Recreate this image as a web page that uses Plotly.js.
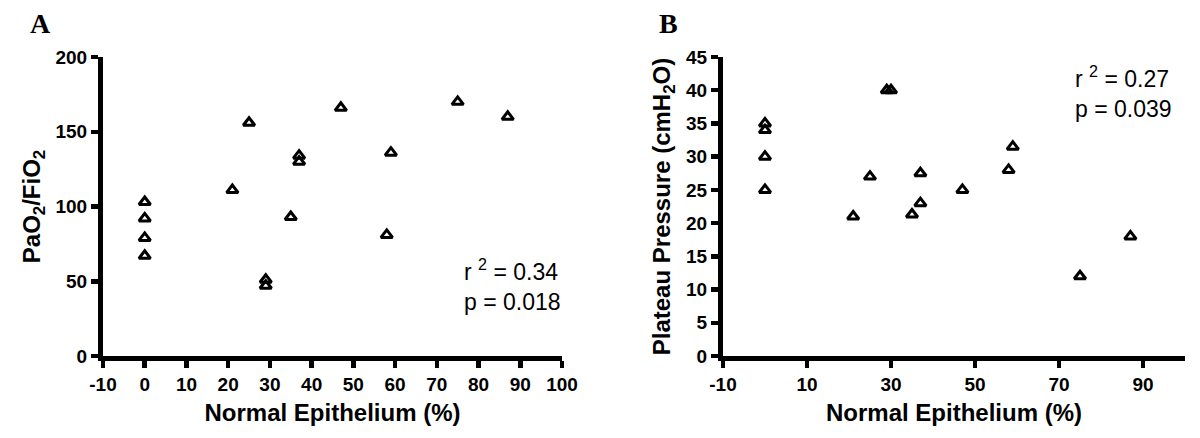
<!DOCTYPE html>
<html>
<head>
<meta charset="utf-8">
<script src="https://cdn.plot.ly/plotly-3.0.1.min.js"></script>
<style>html,body{margin:0;padding:0;background:#fff;}#chart{width:1200px;height:438px;}</style>
</head>
<body>
<div id="chart"></div>
<script>
// Panel A: PaO2/FiO2 vs normal epithelium
var epitheliumA = [0, 0, 0, 0, 21, 25, 29, 29, 35, 37, 37, 47, 58, 59, 75, 87];
var pao2fio2   = [103, 92, 79, 67, 111, 156, 51, 47, 93, 134, 130, 166, 81, 136, 170, 160];
// Panel B: Plateau pressure vs normal epithelium
var epitheliumB = [0, 0, 0, 0, 21, 25, 29, 30, 35, 37, 37, 47, 58, 59, 75, 87];
var plateau     = [35, 34, 30, 25, 21, 27, 40, 40, 21.3, 27.5, 23, 25, 28, 31.5, 12, 18];

// Tick values / labels
var xTicksA = [-10, 0, 10, 20, 30, 40, 50, 60, 70, 80, 90, 100];
var xLabelsA = ["-10", "0", "10", "20", "30", "40", "50", "60", "70", "80", "90", "100"];
var yTicksA = [0, 50, 100, 150, 200];
var yLabelsA = ["0", "50", "100", "150", "200"];
var xTicksB = [-10, 10, 30, 50, 70, 90];
var xLabelsB = ["-10", "10", "30", "50", "70", "90"];
var yTicksB = [0, 5, 10, 15, 20, 25, 30, 35, 40, 45];
var yLabelsB = ["0", "5", "10", "15", "20", "25", "30", "35", "40", "45"];

var statsA = ["r <sup>2</sup> = 0.34", "p = 0.018"];
var statsB = ["r <sup>2</sup> = 0.27", "p = 0.039"];

var FONT = "Liberation Sans, Arial, sans-serif";
var marker = {symbol: "triangle-up-open", size: 10, color: "#000", line: {color: "#000", width: 3}};

var traces = [
  {x: epitheliumA, y: pao2fio2, type: "scatter", mode: "markers", marker: marker, xaxis: "x", yaxis: "y", cliponaxis: false, name: "A"},
  {x: epitheliumB, y: plateau, type: "scatter", mode: "markers", marker: marker, xaxis: "x2", yaxis: "y2", cliponaxis: false, name: "B"}
];

function bold(arr) { return arr.map(function (s) { return "<b>" + s + "</b>"; }); }

function axisBase(vals, labels) {
  return {
    showline: true, linecolor: "#000", linewidth: 5,
    ticks: "outside", ticklen: 7, tickwidth: 4.5, tickcolor: "#000",
    showgrid: false, zeroline: false,
    tickmode: "array", tickvals: vals, ticktext: bold(labels),
    tickfont: {family: FONT, size: 19, color: "#000", weight: 700},
    fixedrange: true
  };
}
function titleObj(text, standoff) {
  return {text: "<b>" + text + "</b>", standoff: standoff, font: {family: FONT, size: 24, color: "#000", weight: 700}};
}

var xa = Object.assign(axisBase(xTicksA, xLabelsA), {domain: [0, 0.4242], range: [-10, 100], anchor: "y",
  title: titleObj("Normal Epithelium (%)", 12)});
var ya = Object.assign(axisBase(yTicksA, yLabelsA), {domain: [0, 1], range: [0, 200], anchor: "x",
  title: titleObj("PaO<sub>2</sub>/FiO<sub>2</sub>", 10)});
var xb = Object.assign(axisBase(xTicksB, xLabelsB), {domain: [0.573, 1], range: [-10, 100], anchor: "y2",
  title: titleObj("Normal Epithelium (%)", 12)});
var yb = Object.assign(axisBase(yTicksB, yLabelsB), {domain: [0, 1], range: [0, 45], anchor: "x2",
  title: titleObj("Plateau Pressure (cmH<sub>2</sub>O)", 10)});

var layout = {
  width: 1200, height: 438,
  margin: {l: 103, r: 15, t: 57, b: 82},
  paper_bgcolor: "#fff", plot_bgcolor: "#fff",
  showlegend: false,
  xaxis: xa, yaxis: ya, xaxis2: xb, yaxis2: yb,
  annotations: [
    {xref: "paper", yref: "paper", x: 0.3318, y: 0.2375, xanchor: "left", yanchor: "middle", align: "left",
     showarrow: false, text: statsA.join("<br>"), font: {family: FONT, size: 23, color: "#000"}},
    {xref: "paper", yref: "paper", x: 0.8965, y: 0.8846, xanchor: "left", yanchor: "middle", align: "left",
     showarrow: false, text: statsB.join("<br>"), font: {family: FONT, size: 23, color: "#000"}},
    {xref: "paper", yref: "paper", x: -0.0582, y: 1.1137, xanchor: "center", yanchor: "middle",
     showarrow: false, text: "<b>A</b>", font: {family: "Liberation Serif, Times New Roman, serif", size: 28, color: "#000", weight: 700}},
    {xref: "paper", yref: "paper", x: 0.5222, y: 1.1137, xanchor: "center", yanchor: "middle",
     showarrow: false, text: "<b>B</b>", font: {family: "Liberation Serif, Times New Roman, serif", size: 28, color: "#000", weight: 700}}
  ]
};

Plotly.newPlot("chart", traces, layout, {staticPlot: true, displayModeBar: false});
</script>
</body>
</html>
